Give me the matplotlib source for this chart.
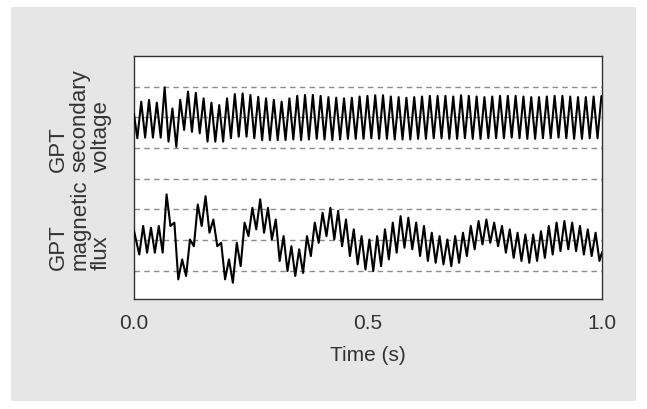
import matplotlib
matplotlib.use("Agg")
import matplotlib.pyplot as plt
from matplotlib.patches import Rectangle
import numpy as np

plt.rcParams["font.family"] = ["Liberation Sans", "DejaVu Sans"]

# --- data: extrema (one value per half cycle) ---
F_SYS = 60.0          # system frequency, Hz
T0 = 0.0071           # time of the first voltage trough, s

volt_start = 0.10
volt_ext = [
    -0.68, 0.51, -0.66, 0.57, -0.66, 0.48, -0.66, 0.98, -0.79, 0.29,
    -0.96, 0.57, -0.41, 0.84, -0.47, 0.80, -0.52, 0.62, -0.79, 0.48,
    -0.79, 0.40, -0.79, 0.62, -0.68, 0.76, -0.63, 0.78, -0.63, 0.73,
    -0.68, 0.67, -0.74, 0.62, -0.74, 0.57, -0.74, 0.51, -0.74, 0.62,
    -0.72, 0.70, -0.74, 0.73, -0.72, 0.73, -0.70, 0.70, -0.72, 0.66,
    -0.74, 0.64, -0.72, 0.62, -0.70, 0.64, -0.70, 0.68, -0.70, 0.70,
    -0.68, 0.72, -0.70, 0.72, -0.70, 0.68, -0.72, 0.66, -0.72, 0.64,
    -0.72, 0.66, -0.70, 0.68, -0.70, 0.70, -0.68, 0.70, -0.68, 0.70,
    -0.70, 0.68, -0.70, 0.72, -0.68, 0.70, -0.70, 0.68, -0.70, 0.66,
    -0.68, 0.68, -0.68, 0.70, -0.68, 0.70, -0.66, 0.70, -0.68, 0.68,
    -0.70, 0.66, -0.70, 0.66, -0.68, 0.68, -0.68, 0.70, -0.66, 0.70,
    -0.68, 0.68, -0.70, 0.66, -0.70, 0.66, -0.68, 0.68, -0.68, 0.70,
]
volt_end = 0.68

flux_start = 0.30
flux_ext = [
    -0.47, 0.46, -0.41, 0.40, -0.41, 0.46, -0.41, 1.49, 0.46, 0.57,
    -1.28, -0.63, -1.17, 0.02, -0.20, 1.16, 0.46, 1.43, 0.24, 0.67,
    -0.20, -0.09, -1.28, -0.63, -1.39, -0.09, -0.85, 0.57, 0.13, 1.05,
    0.35, 1.33, 0.24, 1.05, 0.02, 0.67, -0.68, 0.13, -1.01, -0.20,
    -1.17, -0.30, -1.07, 0.13, -0.52, 0.57, -0.09, 0.89, 0.13, 1.05,
    0.02, 0.95, -0.20, 0.67, -0.52, 0.35, -0.79, 0.13, -0.96, 0.02,
    -1.01, 0.13, -0.85, 0.35, -0.63, 0.57, -0.41, 0.78, -0.25, 0.73,
    -0.30, 0.57, -0.52, 0.46, -0.68, 0.24, -0.74, 0.13, -0.79, 0.02,
    -0.85, 0.13, -0.74, 0.24, -0.52, 0.46, -0.30, 0.62, -0.14, 0.67,
    -0.09, 0.57, -0.20, 0.46, -0.41, 0.35, -0.58, 0.24, -0.68, 0.18,
    -0.74, 0.18, -0.68, 0.29, -0.58, 0.46, -0.47, 0.57, -0.36, 0.62,
    -0.30, 0.57, -0.36, 0.46, -0.47, 0.35, -0.52, 0.24, -0.68,
]
flux_end = -0.40

x_ticks = [0.0, 0.5, 1.0]
x_ticklabels = ["0.0", "0.5", "1.0"]
volt_label = "GPT\nsecondary\nvoltage"
flux_label = "GPT\nmagnetic\nflux"

VOLT_OFFSET = 6.0
FLUX_OFFSET = 2.0

# --- build time axes ---
t_volt = np.concatenate(([0.0], T0 + np.arange(len(volt_ext)) / (2 * F_SYS), [1.0]))
y_volt = np.concatenate(([volt_start], volt_ext, [volt_end])) + VOLT_OFFSET
t_flux = np.concatenate(([0.0], T0 + (np.arange(len(flux_ext)) + 0.5) / (2 * F_SYS), [1.0]))
y_flux = np.concatenate(([flux_start], flux_ext, [flux_end])) + FLUX_OFFSET

# --- figure ---
W, H = 647, 409
fig = plt.figure(figsize=(W / 100, H / 100), dpi=100)
fig.patch.set_facecolor("white")
fig.patches.append(Rectangle((11 / W, 1 - 401 / H), 625 / W, 394 / H,
                             transform=fig.transFigure, facecolor="#e6e6e6",
                             edgecolor="none", zorder=-10))

ax = fig.add_axes([134 / W, 1 - 299 / H, 468 / W, 243 / H])
ax.set_facecolor("white")
for lvl in range(1, 8):
    ax.axhline(lvl, color="#8c8c8c", lw=1.0, ls=(0, (4, 3)), zorder=1)
ax.plot(t_volt, y_volt, color="black", lw=1.5, zorder=3)
ax.plot(t_flux, y_flux, color="black", lw=1.5, zorder=3)

ax.set_xlim(0, 1)
ax.set_ylim(0.08, 8.0)
ax.set_yticks([])
ax.set_xticks(x_ticks)
ax.set_xticklabels(x_ticklabels)
ax.tick_params(axis="x", length=0, pad=11, labelsize=15, labelcolor="#333333")
for s in ax.spines.values():
    s.set_color("#333333")
    s.set_linewidth(1.0)
ax.set_xlabel("Time (s)", fontsize=15, color="#333333", labelpad=9)

fig.text(80 / W, 1 - 172 / H, volt_label, rotation=90, ha="center", va="bottom",
         multialignment="left", fontsize=16, color="#333333", linespacing=1.02)
fig.text(80 / W, 1 - 270 / H, flux_label, rotation=90, ha="center", va="bottom",
         multialignment="left", fontsize=16, color="#333333", linespacing=1.02)

fig.savefig("out.png", dpi=100)
